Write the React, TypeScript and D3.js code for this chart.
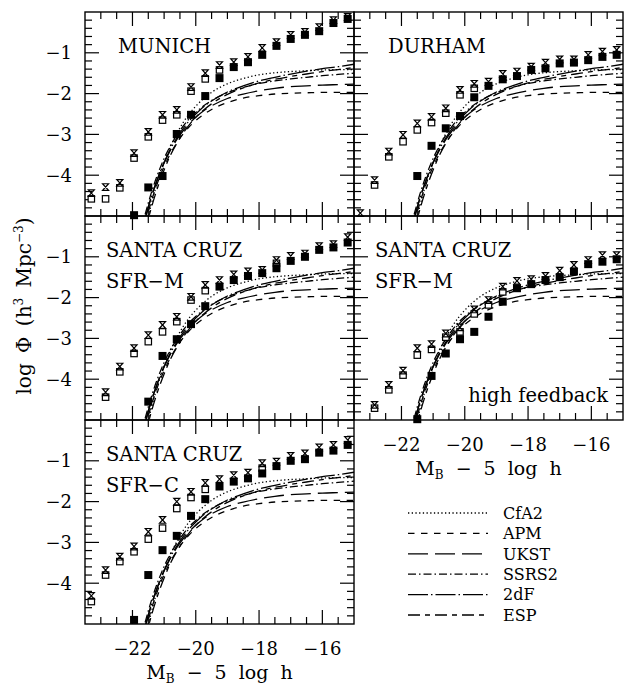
import React from "react";
import * as d3 from "d3";

// Absolute magnitude bins (M_B - 5 log h) of the model luminosity functions
const MAGS = [-23.3, -22.85, -22.4, -21.95, -21.5, -21.05, -20.6, -20.15, -19.7, -19.25, -18.8, -18.35, -17.9, -17.45, -17.0, -16.55, -16.1, -15.65, -15.2];

// log Phi per bin; null where the symbol is absent or hidden
const MUNICH_FILLED = [null, null, null, -4.98, -4.3, -4.02, -2.99, -2.52, -2.06, -1.62, -1.35, -1.23, -1.05, -0.83, -0.66, -0.56, -0.47, -0.27, -0.17];
const MUNICH_OPEN = [-4.58, -4.58, -4.31, -3.58, -3.06, -2.65, -2.52, -1.94, -1.64, -1.42, null, null, null, null, null, null, null, null, null];
const MUNICH_CROSS = [-4.44, -4.29, -4.19, -3.46, -2.94, -2.52, -2.4, -1.84, -1.5, -1.3, -1.23, -1.1, -0.88, -0.74, -0.56, -0.49, -0.37, -0.2, -0.12];

const DURHAM_FILLED = [null, null, null, null, -4.02, -3.28, -2.85, -2.55, -2.09, -1.81, -1.65, -1.57, -1.42, -1.38, -1.26, -1.24, -1.18, -1.1, -1.05];
const DURHAM_OPEN = [null, -4.24, -3.55, -3.18, -2.89, -2.71, -2.48, -2.03, -1.87, null, null, null, null, null, null, null, null, null, null];
const DURHAM_CROSS = [-4.93, -4.12, -3.42, -3.01, -2.73, -2.57, -2.36, -1.91, -1.76, -1.71, -1.52, -1.46, -1.34, -1.24, -1.16, -1.16, -1.05, -0.97, -0.93];

const SFRM_FILLED = [null, null, null, null, -4.55, -3.43, -3.02, -2.65, -2.21, -1.73, -1.57, -1.47, -1.4, -1.28, -1.1, -1.0, -0.83, -0.77, -0.65];
const SFRM_OPEN = [null, -4.44, -3.82, -3.37, -3.08, -2.84, -2.59, -2.06, -1.83, null, null, null, null, -1.16, null, null, null, null, null];
const SFRM_CROSS = [null, -4.32, -3.69, -3.24, -2.92, -2.67, -2.47, -1.98, -1.69, -1.57, -1.43, -1.36, -1.32, -1.08, -0.98, -0.92, -0.74, -0.69, -0.52];

const SFRMHF_FILLED = [null, null, null, null, -4.98, -3.92, -3.37, -3.02, -2.84, -2.47, -2.1, -1.77, -1.67, -1.57, -1.5, -1.36, -1.18, -1.12, -1.06];
const SFRMHF_OPEN = [null, -4.71, -4.26, -3.9, -3.41, -3.27, -2.97, -2.84, -2.4, -2.18, -1.86, null, null, null, null, null, null, null, null];
const SFRMHF_CROSS = [null, -4.63, -4.14, -3.79, -3.24, -3.14, -2.88, -2.73, -2.29, -2.06, -1.73, -1.59, -1.55, -1.47, -1.34, -1.2, -1.08, -0.96, -0.96];

const SFRC_FILLED = [null, null, null, -4.9, -3.8, -3.19, -2.84, -2.35, -1.94, -1.63, -1.51, -1.43, -1.31, -1.13, -1.0, -0.96, -0.8, -0.75, -0.61];
const SFRC_OPEN = [-4.45, -3.8, -3.47, -3.23, -2.92, -2.65, -2.17, -1.9, -1.7, null, null, null, -1.18, null, null, null, null, null, null];
const SFRC_CROSS = [-4.31, -3.68, -3.35, -3.1, -2.74, -2.45, -2.0, -1.76, -1.54, -1.45, -1.35, -1.29, -1.06, -1.02, -0.88, -0.82, -0.67, -0.61, -0.49];

// Observed luminosity-function fits, sampled in magnitude
const LF_MAGS = [-21.6, -21.4, -21.2, -21.0, -20.8, -20.6, -20.4, -20.2, -20.0, -19.75, -19.5, -19.0, -18.5, -18.0, -17.5, -17.0, -16.5, -16.0, -15.5, -15.0];
const CFA2 = [-5.36, -4.7, -4.14, -3.68, -3.3, -2.98, -2.71, -2.49, -2.31, -2.12, -1.97, -1.76, -1.63, -1.54, -1.49, -1.46, -1.44, -1.42, -1.41, -1.41];
const APM = [-5.18, -4.63, -4.17, -3.79, -3.47, -3.21, -2.99, -2.81, -2.66, -2.51, -2.39, -2.22, -2.11, -2.05, -2.01, -1.99, -1.98, -1.97, -1.97, -1.97];
const UKST = [-5.05, -4.52, -4.08, -3.7, -3.39, -3.13, -2.91, -2.73, -2.58, -2.42, -2.3, -2.12, -2.01, -1.93, -1.87, -1.83, -1.81, -1.79, -1.78, -1.77];
const SSRS2 = [-4.96, -4.42, -3.97, -3.59, -3.28, -3.02, -2.8, -2.61, -2.46, -2.3, -2.17, -1.98, -1.85, -1.75, -1.69, -1.64, -1.6, -1.56, -1.53, -1.5];
const TWODF = [-5.08, -4.53, -4.07, -3.69, -3.36, -3.09, -2.86, -2.66, -2.5, -2.32, -2.18, -1.96, -1.81, -1.69, -1.6, -1.52, -1.45, -1.39, -1.34, -1.28];
const ESP = [-5.38, -4.79, -4.29, -3.87, -3.51, -3.22, -2.97, -2.76, -2.58, -2.4, -2.25, -2.02, -1.86, -1.74, -1.65, -1.58, -1.52, -1.46, -1.41, -1.36];

const SURVEYS = [
  { name: "CfA2", values: CFA2, dash: "1.3 2.4" },
  { name: "APM", values: APM, dash: "6.5 6.5" },
  { name: "UKST", values: UKST, dash: "20 7" },
  { name: "SSRS2", values: SSRS2, dash: "8 3 1.5 3" },
  { name: "2dF", values: TWODF, dash: "20 3 1.5 3" },
  { name: "ESP", values: ESP, dash: "12 5 5 5" },
];

const PANELS = [
  { id: "munich", col: 0, row: 0, title: ["MUNICH"], tx: 33, filled: MUNICH_FILLED, open: MUNICH_OPEN, cross: MUNICH_CROSS },
  { id: "durham", col: 1, row: 0, title: ["DURHAM"], tx: 34, filled: DURHAM_FILLED, open: DURHAM_OPEN, cross: DURHAM_CROSS },
  { id: "sfrm", col: 0, row: 1, title: ["SANTA CRUZ", "SFR\u2212M"], tx: 21, filled: SFRM_FILLED, open: SFRM_OPEN, cross: SFRM_CROSS },
  { id: "sfrmhf", col: 1, row: 1, title: ["SANTA CRUZ", "SFR\u2212M"], tx: 21, note: "high feedback", filled: SFRMHF_FILLED, open: SFRMHF_OPEN, cross: SFRMHF_CROSS },
  { id: "sfrc", col: 0, row: 2, title: ["SANTA CRUZ", "SFR\u2212C"], tx: 21, filled: SFRC_FILLED, open: SFRC_OPEN, cross: SFRC_CROSS },
];

const X_TICK_LABELS = [-22, -20, -18, -16];
const Y_TICK_LABELS = [-1, -2, -3, -4];

const W = 626;
const H = 687;
const COL_X = [85, 354];
const ROW_Y = [12, 216, 420];
const PW = 269;
const PH = 204;
const X_DOMAIN = [-23.5, -15];
const Y_DOMAIN = [-5, 0];
const FONT = "'DejaVu Serif', serif";
const MAJOR = 14;
const MINOR = 7;

const fmt = (v: number) => (v < 0 ? "\u2212" + Math.abs(v) : String(v));

function Panel({ p }: { p: any }) {
  const x0 = COL_X[p.col];
  const y0 = ROW_Y[p.row];
  const x = d3.scaleLinear().domain(X_DOMAIN).range([x0, x0 + PW]);
  const y = d3.scaleLinear().domain(Y_DOMAIN).range([y0 + PH, y0]);
  const clipId = `clip-${p.id}`;
  const line = d3
    .line<[number, number]>()
    .x((d) => x(d[0]))
    .y((d) => y(d[1]))
    .curve(d3.curveMonotoneX);

  const xTicks = d3.range(-46, -30).map((i) => i / 2).filter((v) => v > X_DOMAIN[0]);
  const yTicks = d3.range(-24, 0).map((i) => i / 5);
  const bottom = y0 + PH;
  const right = x0 + PW;
  const showX = (p.col === 0 && p.row === 2) || (p.col === 1 && p.row === 1);

  const pts = (arr: (number | null)[]) =>
    MAGS.map((m, i) => [m, arr[i]] as [number, number | null]).filter((d) => d[1] !== null) as [number, number][];

  return (
    <g>
      <clipPath id={clipId}>
        <rect x={x0} y={y0} width={PW} height={PH} />
      </clipPath>
      <g clipPath={`url(#${clipId})`} fill="none" stroke="#000" strokeWidth={1.3}>
        {SURVEYS.map((s) => (
          <path
            key={s.name}
            d={line(LF_MAGS.map((m, i) => [m, s.values[i]] as [number, number])) || ""}
            strokeDasharray={s.dash}
          />
        ))}
      </g>
      {/* ticks */}
      <g stroke="#000" strokeWidth={1.2}>
        {xTicks.map((v) => {
          const len = Math.round(v) === v && Math.round(v) % 2 === 0 ? MAJOR : MINOR;
          return (
            <g key={`x${v}`}>
              <line x1={x(v)} x2={x(v)} y1={bottom} y2={bottom - len} />
              <line x1={x(v)} x2={x(v)} y1={y0} y2={y0 + len} />
            </g>
          );
        })}
        {yTicks.map((v) => {
          const len = Math.abs(v - Math.round(v)) < 1e-6 ? MAJOR : MINOR;
          return (
            <g key={`y${v}`}>
              <line x1={x0} x2={x0 + len} y1={y(v)} y2={y(v)} />
              <line x1={right} x2={right - len} y1={y(v)} y2={y(v)} />
            </g>
          );
        })}
      </g>
      <rect x={x0} y={y0} width={PW} height={PH} fill="none" stroke="#000" strokeWidth={1.4} />
      {/* model symbols */}
      <g fill="#fff" stroke="#000" strokeWidth={1.2}>
        {pts(p.open).map((d, i) => (
          <rect key={i} x={x(d[0]) - 3.2} y={y(d[1]) - 3.2} width={6.4} height={6.4} />
        ))}
      </g>
      <g fill="#000">
        {pts(p.filled).map((d, i) => (
          <rect key={i} x={x(d[0]) - 4} y={y(d[1]) - 4} width={8} height={8} />
        ))}
      </g>
      <g fill="none" stroke="#000" strokeWidth={1.2}>
        {pts(p.cross).map((d, i) => (
          <path
            key={i}
            transform={`translate(${x(d[0])},${y(d[1])})`}
            d="M-3,-3.3H3L-3,3.3H3Z"
          />
        ))}
      </g>
      {/* labels */}
      <g fontFamily={FONT} fontSize={19.5} fill="#000">
        {p.title.map((t: string, i: number) => (
          <text key={t + i} x={x0 + p.tx} y={y0 + 41 + i * 31}>
            {t}
          </text>
        ))}
        {p.note && (
          <text x={right - 15} y={bottom - 18} textAnchor="end">
            {p.note}
          </text>
        )}
      </g>
      {p.col === 0 && (
        <g fontFamily={FONT} fontSize={18} textAnchor="end">
          {Y_TICK_LABELS.map((v) => (
            <text key={v} x={x0 - 13} y={y(v)} dy="0.36em">
              {fmt(v)}
            </text>
          ))}
        </g>
      )}
      {showX && (
        <g fontFamily={FONT} fontSize={18} textAnchor="middle">
          {X_TICK_LABELS.map((v) => (
            <text key={v} x={x(v)} y={bottom + 31}>
              {fmt(v)}
            </text>
          ))}
          <text x={x0 + PW / 2} y={bottom + 55} fontSize={19} wordSpacing={6}>
            M<tspan fontSize={12} dy={4}>B</tspan>
            <tspan dy={-4}> {"\u2212"} 5 log h</tspan>
          </text>
        </g>
      )}
    </g>
  );
}

function Legend() {
  const x1 = 408;
  const x2 = 488;
  const top = 513;
  const step = 20.4;
  return (
    <g>
      {SURVEYS.map((s, i) => (
        <g key={s.name}>
          <line x1={x1} x2={x2} y1={top + i * step} y2={top + i * step} stroke="#000" strokeWidth={1.3} strokeDasharray={s.dash} />
          <text x={503} y={top + i * step} dy="0.36em" fontFamily={FONT} fontSize={16}>
            {s.name}
          </text>
        </g>
      ))}
    </g>
  );
}

export default function App() {
  return (
    <svg
      width={W}
      height={H}
      viewBox={`0 0 ${W} ${H}`}
      style={{ position: "absolute", left: 0, top: 0, background: "#fff" }}
    >
      <rect width={W} height={H} fill="#fff" />
      {PANELS.map((p) => (
        <Panel key={p.id} p={p} />
      ))}
      <text
        transform="translate(31,306) rotate(-90)"
        textAnchor="middle"
        fontFamily={FONT}
        fontSize={20}
        wordSpacing={4}
      >
        log {"\u03A6"} (h<tspan fontSize={12} dy={-8}>3</tspan>
        <tspan dy={8}> Mpc</tspan>
        <tspan fontSize={12} dy={-8}>{"\u2212"}3</tspan>
        <tspan dy={8}>)</tspan>
      </text>
      <Legend />
    </svg>
  );
}
